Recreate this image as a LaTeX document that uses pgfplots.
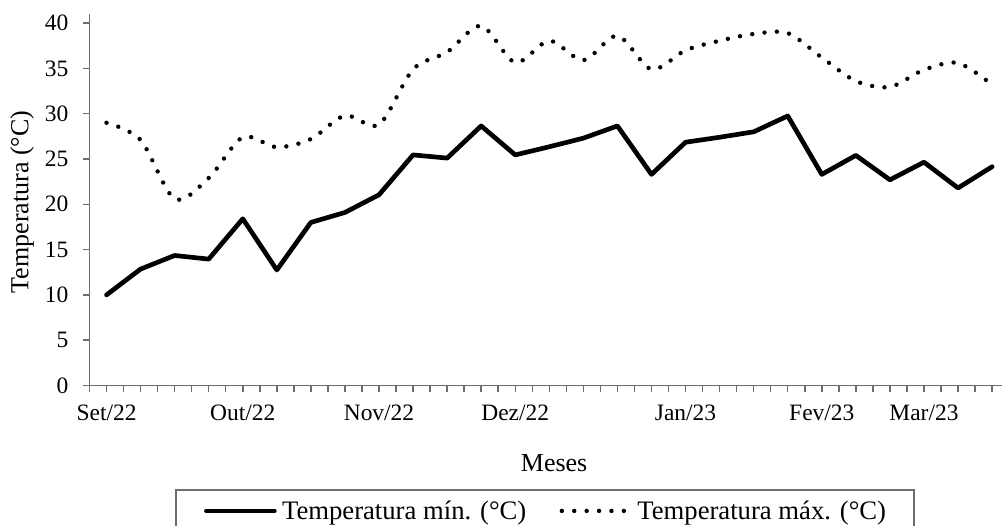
\documentclass[border=0pt]{standalone}
\usepackage{fontspec}
\setmainfont{Liberation Serif}
\usepackage{pgfplots}
\pgfplotsset{compat=1.18}
\definecolor{axgray}{RGB}{110,110,110}
\newcommand{\fs}{\fontsize{19.5pt}{23pt}\selectfont}
\newcommand{\ft}{\fontsize{17.6pt}{21pt}\selectfont}
\newcommand{\fl}{\fontsize{20pt}{24pt}\selectfont}
\begin{document}
\begin{tikzpicture}
\useasboundingbox (0,0) rectangle (752.25pt,393.75pt);
\begin{axis}[
  at={(67.125pt,104.625pt)}, anchor=south west,
  x=25.545pt, y=6.795pt,
  xmin=-0.5, xmax=26.3, ymin=0, ymax=41,
  axis x line*=bottom, axis y line*=left,
  axis line style={axgray, line width=1.1pt},
  tick style={axgray, line width=1.1pt},
  tick align=outside,
  major tick length=4.8pt, minor tick length=4.8pt,
  xtick={0,4,8,12,17,21,24},
  xticklabels={Set/22,Out/22,Nov/22,Dez/22,Jan/23,Fev/23,Mar/23},
  minor xtick={-0.5,0,...,26},
  ytick={0,5,...,40},
  tick label style={font=\ft, black},
  xticklabel style={anchor=base, inner sep=0pt, yshift=-21.1pt},
  yticklabel style={anchor=east, inner sep=0pt, xshift=-10.8pt},
  /pgf/number format/assume math mode=true,
  xlabel={Meses}, ylabel={Temperatura (°C)},
  label style={font=\fs},
  xlabel style={at={(axis description cs:0.509,-0.2094)}, anchor=center},
  ylabel style={at={(axis description cs:-0.0739,0.494)}, anchor=center},
  legend columns=2,
  legend style={at={(axis description cs:0.0941,-0.2794)}, anchor=north west,
    draw=axgray, line width=1pt, font=\fl, inner xsep=21pt, inner ysep=8pt,
    nodes={inner sep=0pt},
    /tikz/every odd column/.style={column sep=4pt},
    /tikz/every even column/.style={column sep=25pt}},
  legend image code/.code={\draw[#1] (0pt,0pt) -- (51pt,0pt);},
]
\addplot[black, line width=3.5pt, line join=round, line cap=round] coordinates {
(0,10.0) (1,12.85) (2,14.35) (3,13.95) (4,18.4) (5,12.75) (6,18.0) (7,19.1) (8,21.05)
(9,25.45) (10,25.1) (11,28.65) (12,25.45) (13,26.35) (14,27.3) (15,28.65) (16,23.3)
(17,26.85) (18,27.4) (19,28.0) (20,29.75) (21,23.3) (22,25.4) (23,22.7) (24,24.65)
(25,21.8) (26,24.15)};
\addplot[black, line width=3.3pt, line cap=round, dash pattern=on 0pt off 9.3pt, smooth] coordinates {
(0,29.0) (1,27.1) (2,20.6) (3,22.9) (4,27.4) (5,26.3) (6,27.2) (7,29.8) (8,28.8)
(9,34.9) (10,36.8) (11,39.7) (12,35.65) (13,38.05) (14,35.9) (15,38.6) (16,34.9)
(17,37.0) (18,38.05) (19,38.8) (20,38.9) (21,36.2) (22,33.6) (23,32.95) (24,34.85)
(25,35.6) (26,33.2)};
\legend{Temperatura mín. (°C), Temperatura máx. (°C)}
\end{axis}
\end{tikzpicture}
\end{document}
